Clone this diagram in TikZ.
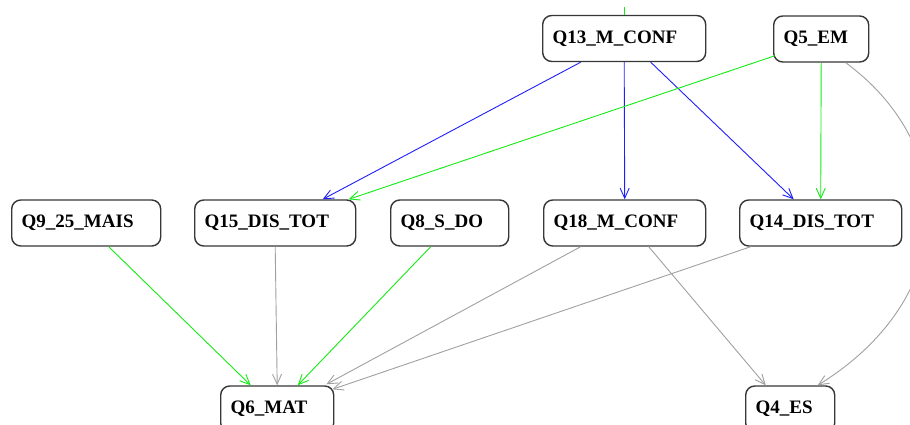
\documentclass[tikz,border=0pt]{standalone}
\usepackage{fontspec}
\setmainfont{Liberation Serif}
\usetikzlibrary{calc,arrows.meta}
\definecolor{eblue}{RGB}{30,30,250}
\definecolor{egreen}{RGB}{20,235,20}
\definecolor{egray}{RGB}{160,160,160}
\definecolor{bord}{RGB}{55,55,55}
\tikzset{
  box/.style={draw=bord, fill=white, rounded corners=9pt, line width=1.4pt,
    minimum height=46pt, inner xsep=10pt, inner ysep=0pt, align=left, anchor=west,
    font=\fontsize{19}{21}\selectfont\bfseries},
  arr/.style={-{Straight Barb[length=10pt,width=9pt]}, line width=0.9pt},
  eb/.style={arr, draw=eblue},
  eg/.style={arr, draw=egreen},
  ey/.style={arr, draw=egray},
}
\begin{document}
\begin{tikzpicture}[x=1pt,y=-1pt]
\useasboundingbox (0,0) rectangle (910,425);
\clip (0,0) rectangle (910,425);
% nodes
\node[box, text width=143pt] (q13) at (542,38.5) {Q13\_M\_CONF};
\node[box, text width=75pt]  (q5)  at (773,39)   {Q5\_EM};
\node[box, text width=129pt] (q9)  at (11,223)   {Q9\_25\_MAIS};
\node[box, text width=141pt] (q15) at (194,223)  {Q15\_DIS\_TOT};
\node[box, text width=98pt]  (q8)  at (390,223)  {Q8\_S\_DO};
\node[box, text width=142pt] (q18) at (543,223)  {Q18\_M\_CONF};
\node[box, text width=142pt] (q14) at (739,223)  {Q14\_DIS\_TOT};
\node[box, text width=93pt]  (q6)  at (220,409)  {Q6\_MAT};
\node[box, text width=69pt]  (q4)  at (745,409)  {Q4\_ES};
% incoming edge from above (cut off)
\coordinate (topin) at ($(q13.north)+(0,-8)$);
\draw[draw=egreen, line width=1.2pt] (topin) -- (q13.north);
% edges
\draw[eb] ($(q13.south)+(-43.5,0)$) -- ($(q15.north)+(47.5,0)$);
\draw[eb] (q13.south) -- (q18.north);
\draw[eb] ($(q13.south)+(26.5,0)$) -- ($(q14.north)+(-27,0)$);
\draw[eg] ($(q5.south west)+(2,-7)$) -- ($(q15.north)+(73.5,0)$);
\draw[eg] (q5.south) -- (q14.north);
\draw[ey] ($(q5.south)+(24.5,0)$) .. controls ($(q5.south)+(140,85)$) and ($(q5.south)+(138,235)$) .. ($(q4.north)+(27.5,0)$);
\draw[eg] ($(q9.south)+(22.5,0)$) -- ($(q6.north)+(-26.5,0)$);
\draw[ey] (q15.south) -- (q6.north);
\draw[eg] ($(q8.south)+(-19,0)$) -- ($(q6.north)+(20.5,0)$);
\draw[ey] ($(q18.south)+(-44,0)$) -- ($(q6.north east)+(-8,-1)$);
\draw[ey] ($(q14.south)+(-70,0)$) -- ($(q6.north east)+(-2,4)$);
\draw[ey] ($(q18.south)+(24,0)$) -- ($(q4.north)+(-24.5,0)$);
\end{tikzpicture}
\end{document}
